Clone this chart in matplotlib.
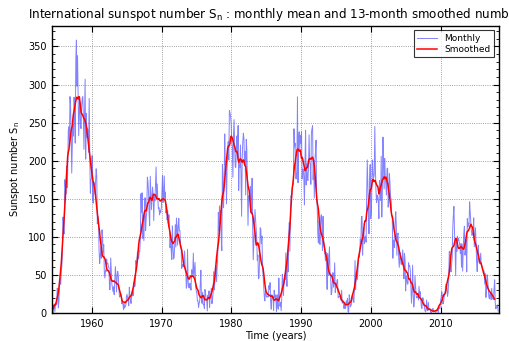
import numpy as np
import matplotlib
matplotlib.use("Agg")
import matplotlib.pyplot as plt
from matplotlib.ticker import MultipleLocator, AutoMinorLocator

start_year = 1953
monthly = [
    # 1953
    37.4, 5.5, 14.1, 39.3, 17.7, 30.8, 12.1, 33.2, 27.3, 11.6, 2.3, 3.5,
    # 1954
    0.3, 0.7, 15.4, 2.5, 1.1, 0.3, 6.8, 11.9, 2.1, 9.9, 13.0, 10.7,
    # 1955
    32.6, 29.4, 6.9, 16.0, 40.8, 44.8, 37.7, 57.5, 60.3, 82.6, 126.0, 108.6,
    # 1956
    103.9, 175.1, 167.2, 156.3, 192.9, 164.6, 182.3, 239.5, 244.6, 219.3, 284.2, 271.2,
    # 1957
    233.0, 183.8, 222.3, 247.4, 232.4, 283.4, 264.3, 223.1, 333.0, 358.4, 297.8, 338.0,
    # 1958
    285.9, 232.8, 269.3, 276.8, 247.5, 242.2, 270.3, 282.7, 284.1, 256.3, 215.0, 264.9,
    # 1959
    307.0, 202.1, 262.2, 230.6, 242.9, 238.2, 211.2, 281.8, 205.0, 157.3, 175.1, 176.5,
    # 1960
    206.6, 149.7, 144.3, 172.3, 168.9, 155.6, 171.8, 189.4, 179.6, 116.9, 126.5, 120.9,
    # 1961
    81.8, 65.1, 74.8, 86.7, 72.0, 109.3, 99.1, 78.9, 89.8, 53.2, 46.0, 56.3,
    # 1962
    54.6, 71.0, 64.4, 65.5, 61.7, 59.3, 30.8, 30.8, 72.4, 55.8, 38.0, 32.8,
    # 1963
    28.0, 34.5, 24.1, 41.4, 60.7, 50.7, 27.7, 46.9, 54.8, 49.8, 33.0, 21.0,
    # 1964
    21.6, 25.0, 23.3, 12.1, 13.4, 12.8, 4.4, 13.1, 6.6, 8.6, 10.4, 21.3,
    # 1965
    24.7, 20.1, 16.5, 9.6, 34.0, 22.5, 16.8, 12.6, 23.7, 28.4, 22.3, 24.0,
    # 1966
    39.8, 34.5, 35.7, 68.8, 64.0, 67.4, 80.1, 72.3, 70.9, 80.8, 80.8, 99.4,
    # 1967
    156.6, 132.2, 157.9, 98.1, 122.1, 95.0, 129.2, 151.4, 108.4, 124.5, 133.2, 178.5,
    # 1968
    172.0, 158.0, 130.2, 114.7, 179.6, 155.7, 135.7, 154.3, 165.5, 152.1, 121.4, 155.0,
    # 1969
    147.4, 170.1, 191.7, 150.8, 169.4, 149.7, 136.7, 138.4, 128.9, 135.1, 132.0, 138.2,
    # 1970
    157.4, 180.5, 145.3, 154.6, 180.0, 150.8, 158.8, 131.3, 140.5, 122.3, 134.4, 117.9,
    # 1971
    128.9, 111.5, 85.7, 101.4, 81.2, 70.3, 114.4, 86.7, 70.9, 73.0, 89.2, 116.1,
    # 1972
    86.8, 124.8, 113.1, 89.2, 113.7, 124.3, 108.0, 108.4, 90.4, 86.6, 58.7, 64.0,
    # 1973
    61.3, 60.6, 65.0, 81.5, 59.9, 55.8, 32.6, 36.1, 83.7, 43.3, 33.7, 32.9,
    # 1974
    39.0, 36.7, 30.1, 56.9, 55.8, 50.8, 78.8, 47.4, 56.8, 66.5, 35.3, 28.9,
    # 1975
    26.7, 16.2, 16.2, 7.2, 12.7, 16.1, 39.8, 56.1, 19.6, 12.8, 27.4, 11.0,
    # 1976
    11.4, 6.1, 30.9, 26.5, 17.5, 17.2, 2.7, 23.2, 19.1, 29.1, 7.3, 21.6,
    # 1977
    23.2, 32.6, 12.3, 18.2, 26.3, 54.4, 30.2, 42.5, 62.1, 61.8, 41.1, 61.0,
    # 1978
    73.3, 132.2, 108.0, 140.8, 116.8, 134.3, 99.4, 82.0, 195.1, 176.6, 138.2, 173.3,
    # 1979
    235.2, 194.2, 194.9, 143.3, 189.8, 211.1, 225.1, 200.8, 266.0, 262.9, 258.8, 248.9,
    # 1980
    225.4, 218.9, 178.2, 231.7, 254.0, 222.1, 192.5, 191.2, 218.9, 232.6, 208.8, 246.3,
    # 1981
    161.0, 199.5, 191.3, 220.8, 180.0, 127.1, 203.0, 224.1, 236.2, 229.3, 194.2, 212.0,
    # 1982
    155.0, 228.0, 215.0, 170.0, 115.0, 154.0, 148.0, 150.0, 166.0, 132.0, 137.0, 177.0,
    # 1983
    115.0, 70.0, 91.0, 110.0, 136.0, 124.0, 112.0, 98.0, 69.0, 76.0, 45.0, 46.0,
    # 1984
    75.0, 112.0, 110.0, 91.0, 101.0, 61.0, 49.0, 34.0, 21.0, 16.0, 30.0, 25.0,
    # 1985
    21.0, 21.0, 22.0, 21.0, 36.0, 31.0, 40.0, 14.0, 5.0, 24.0, 21.0, 22.0,
    # 1986
    3.0, 30.0, 20.0, 24.0, 18.0, 1.5, 24.0, 10.0, 5.0, 46.0, 20.0, 9.0,
    # 1987
    14.0, 3.0, 19.0, 51.0, 43.0, 23.0, 43.0, 50.0, 44.0, 79.0, 52.0, 35.0,
    # 1988
    80.0, 54.0, 103.0, 119.0, 81.0, 137.0, 154.0, 151.0, 162.0, 169.0, 169.0, 242.0,
    # 1989
    218.0, 223.0, 177.0, 176.0, 187.0, 284.0, 171.0, 228.0, 238.0, 215.0, 233.0, 223.0,
    # 1990
    238.0, 176.0, 189.0, 189.0, 178.0, 142.0, 201.0, 240.0, 168.0, 196.0, 177.0, 174.0,
    # 1991
    191.0, 234.0, 198.0, 195.0, 169.0, 237.0, 242.0, 246.0, 175.0, 201.0, 151.0, 201.0,
    # 1992
    211.0, 227.0, 150.0, 140.0, 104.0, 92.0, 121.0, 91.0, 90.0, 125.0, 129.0, 116.0,
    # 1993
    82.0, 127.0, 97.0, 86.0, 85.0, 69.0, 80.0, 59.0, 31.0, 78.0, 49.0, 68.0,
    # 1994
    87.0, 53.0, 48.0, 24.0, 27.0, 42.0, 53.0, 34.0, 39.0, 66.0, 27.0, 39.0,
    # 1995
    35.0, 43.0, 44.0, 20.0, 21.0, 22.0, 21.0, 20.0, 17.0, 30.0, 13.0, 14.0,
    # 1996
    16.0, 6.0, 12.0, 6.0, 7.0, 16.0, 11.0, 19.0, 2.0, 1.0, 24.0, 18.0,
    # 1997
    8.0, 10.0, 12.0, 21.0, 25.0, 17.0, 14.0, 33.0, 69.0, 31.0, 52.0, 55.0,
    # 1998
    44.0, 55.0, 75.0, 73.0, 77.0, 97.0, 91.0, 126.0, 127.0, 76.0, 101.0, 112.0,
    # 1999
    91.0, 97.0, 101.0, 93.0, 155.0, 201.0, 166.0, 137.0, 104.0, 170.0, 195.0, 124.0,
    # 2000
    131.0, 164.0, 201.0, 182.0, 177.0, 182.0, 245.0, 190.0, 160.0, 145.0, 155.0, 152.0,
    # 2001
    147.0, 124.0, 174.0, 165.0, 148.0, 206.0, 126.0, 163.0, 231.0, 193.0, 163.0, 203.0,
    # 2002
    179.0, 169.0, 155.0, 190.0, 190.0, 139.0, 157.0, 183.0, 172.0, 153.0, 149.0, 128.0,
    # 2003
    124.0, 72.0, 96.0, 94.0, 86.0, 121.0, 133.0, 113.0, 76.0, 102.0, 105.0, 73.0,
    # 2004
    60.0, 74.0, 79.0, 64.0, 64.0, 70.0, 83.0, 66.0, 45.0, 78.0, 70.0, 29.0,
    # 2005
    48.0, 45.0, 38.0, 38.0, 66.0, 61.0, 62.0, 56.0, 34.0, 13.0, 28.0, 63.0,
    # 2006
    25.0, 8.0, 17.0, 49.0, 36.0, 23.0, 20.0, 21.0, 23.0, 17.0, 35.0, 22.0,
    # 2007
    28.0, 18.0, 8.0, 6.0, 20.0, 20.0, 16.0, 10.0, 4.0, 1.5, 3.0, 17.0,
    # 2008
    5.0, 3.0, 14.0, 4.0, 5.0, 5.0, 1.0, 0.5, 1.5, 4.0, 6.0, 1.5,
    # 2009
    2.0, 2.0, 1.0, 1.0, 4.0, 4.0, 5.0, 0.0, 6.0, 7.0, 6.0, 16.0,
    # 2010
    20.0, 28.0, 23.0, 12.0, 13.0, 20.0, 24.0, 29.0, 38.0, 35.0, 32.0, 22.0,
    # 2011
    27.0, 43.0, 81.0, 79.0, 60.0, 54.0, 64.0, 73.0, 113.0, 128.0, 140.0, 106.0,
    # 2012
    86.0, 49.0, 94.0, 81.0, 101.0, 95.0, 98.0, 93.0, 90.0, 78.0, 91.0, 60.0,
    # 2013
    91.0, 55.0, 84.0, 105.0, 114.0, 76.0, 83.0, 96.0, 54.0, 124.0, 113.0, 118.0,
    # 2014
    117.0, 146.0, 132.0, 121.0, 108.0, 102.0, 104.0, 107.0, 125.0, 87.0, 100.0, 112.0,
    # 2015
    93.0, 66.7, 54.5, 75.3, 88.8, 66.5, 65.8, 64.4, 78.6, 63.6, 62.2, 58.0,
    # 2016
    57.0, 56.4, 54.1, 37.9, 51.5, 20.5, 32.4, 50.2, 44.6, 33.4, 21.4, 18.5,
    # 2017
    26.1, 26.4, 17.7, 32.3, 18.9, 19.2, 17.8, 32.6, 43.6, 13.2, 5.7, 8.2,
    # 2018
    6.8, 10.7, 2.5,
]

monthly = np.array(monthly)
n = len(monthly)
t = start_year + (np.arange(n) + 0.5) / 12.0

# 13-month tapered running mean (SILSO definition)
w = np.array([0.5] + [1.0] * 11 + [0.5]) / 12.0
smoothed = np.convolve(monthly, w, mode="valid")
t_s = t[6:n - 6]

fig = plt.figure(figsize=(5.10, 3.41), dpi=100)
ax = fig.add_axes([0.102, 0.082, 0.876, 0.842])

ax.plot(t, monthly, color=(0.35, 0.35, 1.0), lw=0.7, alpha=0.75, label="Monthly")
ax.plot(t_s, smoothed, color="red", lw=1.1, label="Smoothed")

ax.set_xlim(1954.3, 2018.3)
ax.set_ylim(0, 377)
ax.xaxis.set_major_locator(MultipleLocator(10))
ax.yaxis.set_major_locator(MultipleLocator(50))
ax.yaxis.set_minor_locator(AutoMinorLocator(5))
ax.tick_params(which="both", direction="in", top=True, right=True, labelsize=7, pad=4)
ax.tick_params(which="major", length=4)
ax.tick_params(which="minor", length=2)
ax.grid(True, which="major", linestyle=":", color="gray", lw=0.6)
for s in ax.spines.values():
    s.set_linewidth(1.0)

ax.set_title("International sunspot number S$_\\mathregular{n}$ : monthly mean and 13-month smoothed number",
             fontsize=8.6, pad=6)
ax.set_xlabel("Time (years)", fontsize=7, labelpad=2)
ax.set_ylabel("Sunspot number S$_\\mathregular{n}$", fontsize=7, labelpad=4)

leg = ax.legend(loc="upper right", fontsize=6.5, fancybox=False, edgecolor="black",
                handlelength=2.2, borderpad=0.4, labelspacing=0.2)
leg.get_frame().set_linewidth(0.8)

fig.savefig("out.png", dpi=100, facecolor="white")
